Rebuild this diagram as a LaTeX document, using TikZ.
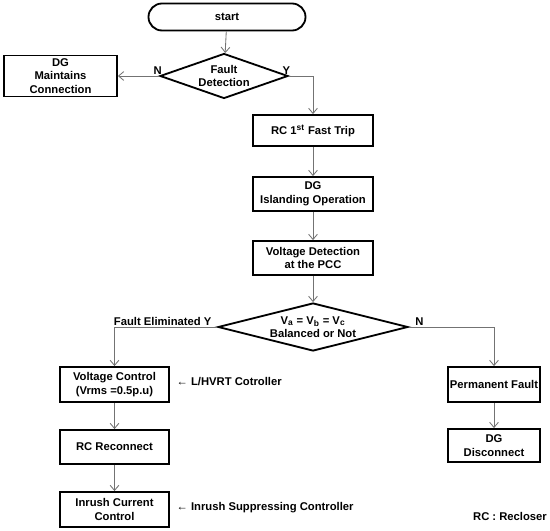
\documentclass[tikz,border=0pt]{standalone}
\usepackage{fontspec}
\setmainfont{Liberation Sans}
\usetikzlibrary{shapes.geometric,arrows.meta}
\begin{document}
\begin{tikzpicture}[
  >={Straight Barb[length=1.3mm,width=2.2mm]},
  font=\fontsize{8}{9.6}\selectfont\bfseries,
  box/.style={rectangle,draw,line width=1.3pt,align=center,inner sep=1pt},
  dec/.style={diamond,draw,line width=1.3pt,align=center,inner sep=0pt},
  edge/.style={->,draw=black!55,line width=0.6pt},
  lbl/.style={inner sep=1pt}
]
\useasboundingbox (0,0) rectangle (13.75,13.25);
\node[box,rounded corners=0.3375cm,minimum width=3.925cm,minimum height=0.675cm] (start) at (5.675,12.825) {start};
\node[dec,aspect=2.84,minimum width=3.2cm,minimum height=1.125cm] (fd) at (5.6,11.35) {Fault\\Detection};
\node[box,minimum width=2.825cm,minimum height=1.025cm] (dgm) at (1.5125,11.35) {DG\\Maintains\\Connection};
\node[box,minimum width=3cm,minimum height=0.775cm] (rc1) at (7.825,9.9875) {RC 1\textsuperscript{st} Fast Trip};
\node[box,minimum width=3cm,minimum height=0.85cm] (dgi) at (7.825,8.4) {DG\\Islanding Operation};
\node[box,minimum width=3cm,minimum height=0.85cm] (vd) at (7.825,6.8) {Voltage Detection\\at the PCC};
\node[dec,aspect=3.96,minimum width=4.75cm,minimum height=1.2cm] (bal) at (7.825,5.075) {V\textsubscript{a} = V\textsubscript{b} = V\textsubscript{c}\\Balanced or Not};
\node[box,minimum width=2.725cm,minimum height=0.875cm] (vc) at (2.8625,3.6375) {Voltage Control\\(Vrms =0.5p.u)};
\node[box,minimum width=2.725cm,minimum height=0.85cm] (rcr) at (2.8625,2.075) {RC Reconnect};
\node[box,minimum width=2.725cm,minimum height=0.875cm] (inr) at (2.8625,0.5125) {Inrush Current\\Control};
\node[box,minimum width=2.3cm,minimum height=0.875cm] (pf) at (12.35,3.6375) {Permanent Fault};
\node[box,minimum width=2.3cm,minimum height=0.825cm] (dgd) at (12.35,2.1125) {DG\\Disconnect};
\node[lbl,anchor=west] (hvrt) at (4.375,3.7) {← L/HVRT Cotroller};
\node[lbl,anchor=west] (isc) at (4.375,0.55) {← Inrush Suppressing Controller};
\node[lbl] (note) at (12.75,0.35) {RC : Recloser};
\draw[edge] (start) -- (fd);
\draw[edge] (fd.west) -- (dgm.east);
\draw[edge] (fd.east) -| (rc1);
\draw[edge] (rc1) -- (dgi);
\draw[edge] (dgi) -- (vd);
\draw[edge] (vd) -- (bal);
\draw[edge] (bal.west) -| (vc);
\draw[edge] (bal.east) -| (pf);
\draw[edge] (vc) -- (rcr);
\draw[edge] (rcr) -- (inr);
\draw[edge] (pf) -- (dgd);
\node[lbl,above,xshift=-1pt] (fdn) at (fd.west) {N};
\node[lbl,above left,xshift=2pt] (fdy) at (fd.east) {Y};
\node[lbl,above left,xshift=-0.1cm] (baly) at (bal.west) {Fault Eliminated Y};
\node[lbl,above right,xshift=0.12cm] (baln) at (bal.east) {N};
\end{tikzpicture}
\end{document}
